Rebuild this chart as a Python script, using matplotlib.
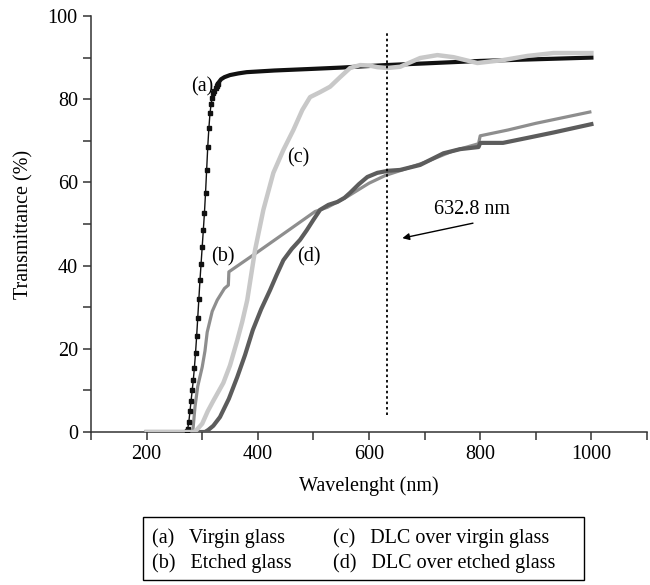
import matplotlib
matplotlib.use("Agg")
import matplotlib.pyplot as plt
from matplotlib.patches import Rectangle
from matplotlib.ticker import MultipleLocator

plt.rcParams["font.family"] = ["Liberation Serif", "DejaVu Serif"]

# (a) virgin glass
wl_a = [200, 270, 272, 274, 276, 278, 280, 282, 284, 286, 288, 290, 292, 294, 296, 298,
        300, 302, 304, 306, 308, 310, 312, 314, 316, 318, 320, 322, 324, 326, 328, 330,
        334, 340, 350, 365, 380, 430, 500, 550, 630, 700, 800, 900, 1000]
t_a = [0, 0, 0.2, 0.8, 2.5, 5, 7.5, 10, 12.5, 15.5, 19, 23, 27.5, 32, 36.5, 40.5,
       44.5, 48.5, 52.6, 57.5, 63, 68.6, 73, 76.6, 78.8, 80.3, 81.4, 82, 82.6, 83.2, 83.7, 84.1,
       84.8, 85.3, 85.8, 86.2, 86.5, 86.9, 87.3, 87.6, 88.2, 88.6, 89.2, 89.6, 90.0]

# (b) etched glass
wl_b = [200, 283, 287, 292, 300, 305, 309, 318, 327, 340, 347, 348, 400, 450, 503, 525,
        560, 600, 630, 660, 700, 750, 797, 800, 850, 900, 950, 1000]
t_b = [0, 0, 6, 11, 15.6, 19.5, 24, 29, 31.7, 34.5, 35.3, 38.5, 43.3, 48, 53, 54,
       56.5, 59.8, 61.7, 63, 64.8, 67.5, 69.3, 71.2, 72.6, 74.2, 75.6, 77]

# (c) DLC over virgin glass
wl_c = [200, 285, 290, 300, 310, 320, 338, 350, 363, 372, 381, 395, 410, 428, 446, 464,
        480, 494, 512, 530, 548, 566, 584, 600, 615, 633, 656, 692, 723, 752, 795, 841,
        885, 932, 993, 1000]
t_c = [0, 0, 0.5, 2, 5, 7.5, 11.8, 16, 22, 26.5, 31.7, 43.7, 53.4, 62.3, 67.8, 72.6,
       77.4, 80.5, 81.7, 83, 85.3, 87.5, 88.2, 88.1, 87.7, 87.5, 87.8, 89.9, 90.6, 90.1,
       88.7, 89.4, 90.4, 91.1, 91.1, 91.1]

# (d) DLC over etched glass
wl_d = [200, 305, 311, 320, 332, 348, 363, 377, 391, 406, 422, 434, 446, 461, 476, 488,
        500, 512, 527, 543, 556, 566, 582, 597, 615, 635, 656, 692, 713, 734, 764, 797,
        800, 841, 885, 932, 1000]
t_d = [0, 0, 0.5, 1.5, 3.6, 8, 13.2, 18.5, 24.5, 29.5, 34.1, 37.8, 41.3, 44, 46.2, 48.5,
       51, 53.4, 54.6, 55.3, 56.3, 57.5, 59.6, 61.3, 62.3, 62.8, 63, 64.2, 65.6, 67, 68,
       68.5, 69.5, 69.5, 70.7, 72, 74]

laser_wl = 632.8
legend_rows = [["(a)   Virgin glass", "(c)   DLC over virgin glass"],
               ["(b)   Etched glass", "(d)   DLC over etched glass"]]

W, H = 650, 585
fig = plt.figure(figsize=(W / 100, H / 100), dpi=100)
ax = fig.add_axes([91 / W, 1 - 432 / H, 556 / W, 416 / H])

fs = 14.5

ax.plot(wl_b, t_b, color="#8e8e8e", lw=2.3, zorder=2, solid_capstyle="butt")
ax.plot(wl_d, t_d, color="#5c5c5c", lw=3.0, zorder=3)
# virgin glass: thin line with square points on the steep edge, thick on the plateau
i0, i1 = wl_a.index(272), wl_a.index(328)
ax.plot(wl_a, t_a, color="#111111", lw=1.0, zorder=4)
ax.plot(wl_a[i0:i1 + 1], t_a[i0:i1 + 1], ls="none", marker="s", ms=2.8,
        color="#111111", zorder=4)
ax.plot(wl_a[i1:], t_a[i1:], color="#111111", lw=3.0, zorder=4)
ax.plot(wl_c, t_c, color="#c8c8c8", lw=3.2, zorder=5)

# laser line marker
ax.plot([laser_wl, laser_wl], [4, 96], color="black", lw=1.3,
        ls=(0, (1.4, 1.6)), zorder=6)
ax.annotate("", xy=(660, 46.6), xytext=(787, 50.2),
            arrowprops=dict(arrowstyle="-|>", color="black", lw=1.0,
                            mutation_scale=10, shrinkA=0, shrinkB=0))
ax.text(786, 53.6, "632.8 nm", fontsize=fs, ha="center", va="center")

# curve labels
ax.text(300, 83, "(a)", fontsize=fs, ha="center", va="center")
ax.text(338, 42, "(b)", fontsize=fs, ha="center", va="center")
ax.text(473, 66, "(c)", fontsize=fs, ha="center", va="center")
ax.text(491, 42, "(d)", fontsize=fs, ha="center", va="center")

ax.set_xlim(100, 1100)
ax.set_ylim(0, 100)
ax.xaxis.set_minor_locator(MultipleLocator(100))
ax.yaxis.set_major_locator(MultipleLocator(20))
ax.yaxis.set_minor_locator(MultipleLocator(10))
ax.set_xticks([200, 400, 600, 800, 1000])
ax.tick_params(which="both", direction="out", length=6, width=1.1, labelsize=fs,
               color="#333333")
for side in ["top", "right"]:
    ax.spines[side].set_visible(False)
for side in ["left", "bottom"]:
    ax.spines[side].set_linewidth(1.1)
    ax.spines[side].set_color("#333333")

ax.set_xlabel("Wavelenght (nm)", fontsize=fs, labelpad=9)
ax.set_ylabel("Transmittance (%)", fontsize=fs, labelpad=10)

# legend box drawn as plain text in a frame
fig.patches.append(Rectangle((143 / W, 1 - 580 / H), 441 / W, 63 / H,
                             transform=fig.transFigure, fill=False,
                             edgecolor="black", lw=1.0))
col_x = [152 / W, 333 / W]
row_y = [1 - 538 / H, 1 - 563 / H]
for r, row in enumerate(legend_rows):
    for c, label in enumerate(row):
        fig.text(col_x[c], row_y[r], label, fontsize=fs, ha="left", va="center")

fig.savefig("out.png", dpi=100)
